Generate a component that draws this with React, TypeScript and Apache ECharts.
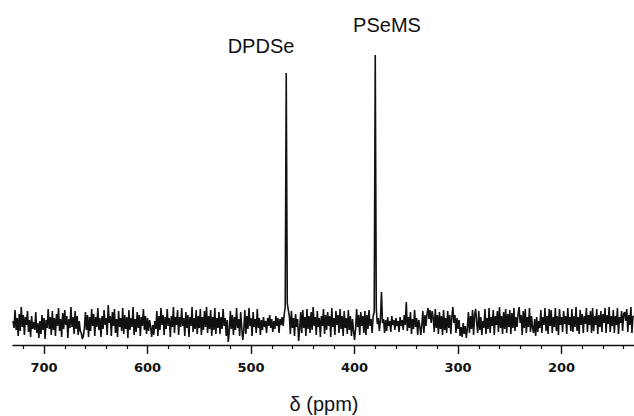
import React, { useEffect, useRef } from "react";
import * as echarts from "echarts";

// Spectrum sampled every 1 ppm from 730 ppm down to 130 ppm
const ppmStart = 730;
const ppmStep = 1;
const intensity: number[] = [
  24, 17, 35, 15, 27, 9, 31, 14, 38, 18, 30, 10, 28, 20, 34, 13, 25, 8, 29, 16,
  23, 15, 33, 12, 22, 7, 24, 11, 30, 15, 27, 6, 25, 17, 36, 16, 28, 10, 34, 15,
  27, 9, 31, 19, 37, 14, 26, 8, 32, 16, 35, 20, 29, 7, 26, 17, 38, 18, 28, 11,
  34, 16, 29, 10, 24, 14, 12, 6, 9, 17, 33, 15, 30, 8, 28, 14, 36, 19, 31, 9,
  28, 18, 37, 15, 27, 8, 29, 16, 35, 20, 27, 10, 40, 22, 29, 9, 33, 19, 36, 12,
  26, 8, 34, 18, 27, 14, 37, 11, 30, 16, 28, 7, 35, 15, 27, 18, 38, 10, 26, 13,
  33, 17, 30, 9, 28, 19, 36, 15, 29, 11, 27, 14, 25, 18, 8, 20, 10, 24, 16, 34,
  9, 29, 15, 37, 20, 30, 10, 28, 16, 36, 19, 27, 8, 29, 18, 38, 12, 28, 20, 35,
  10, 28, 18, 37, 19, 27, 9, 33, 17, 30, 8, 28, 19, 38, 13, 27, 16, 35, 11, 29,
  17, 36, 10, 28, 15, 34, 18, 38, 12, 29, 16, 35, 9, 28, 15, 37, 11, 27, 17, 33,
  11, 28, 16, 36, 19, 27, 9, 25, 3, 14, 34, 16, 30, 10, 28, 15, 37, 17, 26, 9,
  33, 17, 5, 15, 35, 11, 29, 16, 37, 19, 27, 9, 33, 18, 26, 12, 36, 17, 27, 10,
  25, 15, 28, 18, 24, 12, 27, 19, 30, 17, 26, 13, 24, 16, 29, 19, 27, 12, 26, 20,
  28, 19, 30, 38, 272, 42, 35, 29, 11, 34, 17, 27, 9, 31, 18, 26, 4, 16, 33, 12,
  35, 17, 28, 9, 36, 16, 29, 12, 33, 15, 38, 19, 28, 10, 34, 18, 27, 8, 29, 19,
  36, 11, 30, 15, 33, 19, 29, 8, 37, 18, 27, 10, 34, 20, 30, 12, 36, 16, 29, 9,
  34, 17, 27, 11, 35, 15, 29, 9, 26, 14, 5, 16, 36, 18, 30, 10, 33, 19, 29, 12,
  34, 10, 30, 16, 35, 19, 26, 12, 29, 33, 290, 36, 21, 27, 14, 25, 53, 22, 26, 12,
  25, 14, 28, 19, 24, 13, 29, 20, 25, 15, 27, 19, 24, 13, 28, 19, 25, 15, 30, 20,
  43, 14, 28, 17, 33, 11, 26, 16, 35, 18, 27, 10, 25, 19, 10, 20, 34, 12, 30, 19,
  31, 37, 26, 35, 22, 34, 27, 13, 36, 17, 30, 11, 33, 16, 29, 10, 35, 15, 27, 12,
  34, 17, 30, 11, 28, 38, 22, 30, 12, 27, 16, 25, 9, 18, 8, 22, 11, 19, 7, 17,
  33, 12, 29, 16, 35, 10, 30, 36, 22, 12, 34, 15, 28, 10, 24, 17, 36, 11, 27, 16,
  37, 12, 28, 19, 35, 10, 29, 20, 34, 13, 38, 17, 29, 11, 33, 16, 36, 12, 31, 18,
  35, 11, 32, 17, 37, 14, 28, 18, 31, 38, 22, 30, 10, 34, 17, 36, 12, 28, 18, 37,
  13, 29, 17, 12, 26, 9, 28, 13, 24, 17, 35, 12, 28, 20, 37, 14, 29, 11, 36, 19,
  35, 12, 28, 18, 37, 14, 29, 10, 36, 20, 28, 13, 34, 21, 29, 11, 37, 20, 28, 14,
  36, 13, 29, 18, 38, 14, 28, 11, 35, 20, 31, 12, 29, 21, 37, 13, 30, 20, 34, 12,
  37, 14, 29, 20, 36, 11, 30, 18, 34, 13, 31, 22, 37, 12, 30, 21, 38, 13, 29, 19,
  35, 12, 29, 20, 37, 11, 28, 22, 34, 14, 31, 33, 24, 36, 13, 30, 20, 38, 12, 29,
  28,
];

const majorTicks = [700, 600, 500, 400, 300, 200];
const minorTicks = [
  720, 680, 660, 640, 620, 580, 560, 540, 520, 480, 460, 440, 420,
  380, 360, 340, 320, 280, 260, 240, 220, 180, 160, 140,
];
const peakLabels = [
  { name: "DPDSe", x: 261, y: 46 },
  { name: "PSeMS", x: 387, y: 25 },
];
const axisTitle = "δ (ppm)";

export default function App() {
  const ref = useRef<HTMLDivElement>(null);
  useEffect(() => {
    if (!ref.current) return;
    const chart = echarts.init(ref.current, null, { renderer: "svg" });
    const data = intensity.map((v, i) => [ppmStart - i * ppmStep, v]);
    const xCommon = {
      type: "value" as const,
      min: 130,
      max: 730,
      inverse: true,
      splitLine: { show: false },
    };
    chart.setOption({
      animation: false,
      backgroundColor: "#fff",
      grid: { left: 13, right: 0, top: 45, bottom: 71, containLabel: false },
      xAxis: [
        {
          ...xCommon,
          position: "bottom",
          axisLine: { show: true, onZero: false, lineStyle: { color: "#111", width: 1.4 } },
          axisTick: {
            show: true,
            inside: false,
            length: 9,
            customValues: majorTicks,
            lineStyle: { color: "#111", width: 1.4 },
          },
          axisLabel: {
            show: true,
            customValues: majorTicks,
            margin: 16,
            fontFamily: "DejaVu Sans",
            fontWeight: "bold",
            fontSize: 13,
            color: "#111",
          },
        },
        {
          ...xCommon,
          position: "bottom",
          axisLine: { show: false, onZero: false },
          axisTick: {
            show: true,
            inside: false,
            length: 4,
            customValues: minorTicks,
            lineStyle: { color: "#111", width: 1.2 },
          },
          axisLabel: { show: false },
        },
      ],
      yAxis: { type: "value", min: 0, max: 300, show: false },
      series: [
        {
          type: "line",
          data,
          xAxisIndex: 0,
          showSymbol: false,
          symbol: "none",
          lineStyle: { color: "#111", width: 1.6, join: "miter", miterLimit: 2 },
          silent: true,
        },
      ],
      graphic: [
        ...peakLabels.map((p) => ({
          type: "text",
          x: p.x,
          y: p.y,
          style: {
            text: p.name,
            font: "20px 'Liberation Sans', Arial, sans-serif",
            fill: "#111",
            textAlign: "center",
            textVerticalAlign: "middle",
          },
        })),
        {
          type: "text",
          x: 324,
          y: 404,
          style: {
            text: axisTitle,
            font: "20px 'Liberation Sans', Arial, sans-serif",
            fill: "#111",
            textAlign: "center",
            textVerticalAlign: "middle",
          },
        },
      ],
    });
    return () => chart.dispose();
  }, []);
  return (
    <div
      ref={ref}
      style={{ position: "fixed", left: 0, top: 0, width: 634, height: 416, background: "#fff" }}
    />
  );
}
